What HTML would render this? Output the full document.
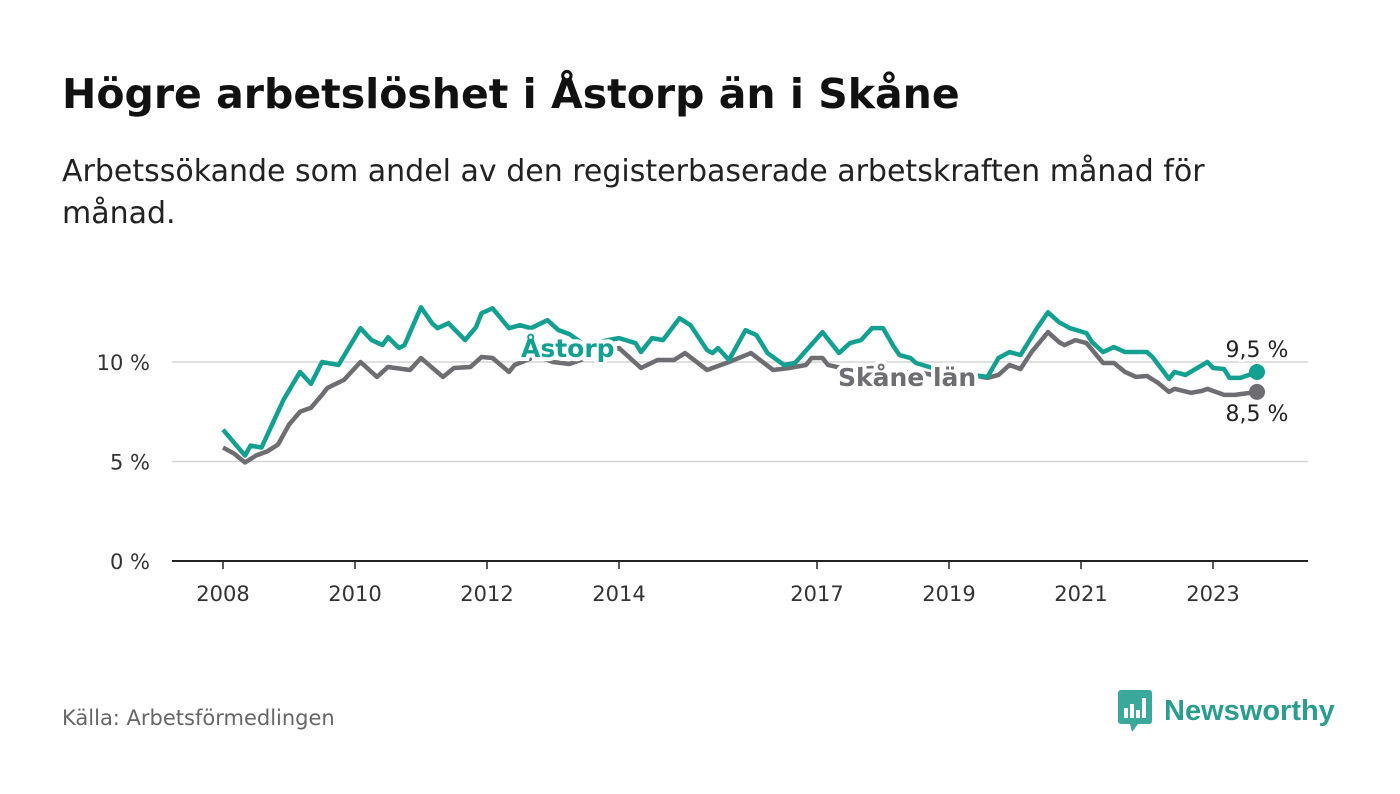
<!DOCTYPE html>
<html><head><meta charset="utf-8"><style>
body{margin:0;width:1400px;height:794px;background:#fff;font-family:"DejaVu Sans","Liberation Sans",sans-serif;overflow:hidden;position:relative}
h1{position:absolute;left:62px;top:70px;margin:0;font-size:41px;font-weight:bold;color:#111}
.sub{position:absolute;left:62px;top:151px;font-size:30px;line-height:42px;color:#222;width:1300px}
.src{position:absolute;left:62px;top:706px;font-size:21px;color:#666}
.logo{position:absolute;left:1118px;top:690px;display:flex;align-items:center;gap:10px;font-size:29px;font-weight:bold;color:#2a9d8f;font-family:"Liberation Sans",sans-serif}
</style></head><body>
<h1>Högre arbetslöshet i Åstorp än i Skåne</h1>
<div class="sub">Arbetssökande som andel av den registerbaserade arbetskraften månad för<br>månad.</div>
<svg id="chart" width="1400" height="794" style="position:absolute;left:0;top:0"></svg>
<div class="src">Källa: Arbetsförmedlingen</div>
<div class="logo"><svg width="36" height="42" viewBox="0 0 36 42"><rect x="0" y="0" width="34" height="34" rx="3" fill="#3aa99b"/><polygon points="12,34 20,34 14,42" fill="#3aa99b"/><rect x="6" y="18" width="4" height="10" fill="#fff"/><rect x="12" y="14" width="4" height="14" fill="#fff"/><rect x="18" y="20" width="4" height="8" fill="#fff"/><rect x="24" y="8" width="4" height="20" fill="#fff"/></svg><span>Newsworthy</span></div>
<script>
const yearLabels=["2008","2010","2012","2014","2017","2019","2021","2023"];
const yearTicks=[2008,2010,2012,2014,2017,2019,2021,2023];
const yTicks=[0,5,10];
const astorpMonths=[0,4,5,7,11,14,16,18,21,25,27,29,30,32,33,36,38,39,41,44,46,47,49,52,54,56,59,61,63,65,67,70,72,75,76,78,80,83,85,88,89,90,92,95,97,99,102,104,109,112,114,116,118,120,122,123,125,126,129,132,135,139,141,143,145,147,148,150,152,154,157,158,160,162,164,168,169,172,173,175,179,180,182,183,185,188];
const astorpValues=[6.6,5.3,5.8,5.7,8.1,9.5,8.9,10.0,9.85,11.7,11.1,10.85,11.25,10.7,10.85,12.75,11.95,11.7,11.95,11.1,11.75,12.45,12.7,11.7,11.85,11.7,12.1,11.6,11.4,11.0,10.9,11.1,11.2,10.95,10.5,11.2,11.1,12.2,11.85,10.6,10.45,10.7,10.1,11.6,11.35,10.45,9.85,9.95,11.5,10.45,10.95,11.1,11.7,11.7,10.75,10.35,10.2,9.95,9.7,9.5,9.4,9.25,10.2,10.5,10.35,11.25,11.7,12.5,12.0,11.7,11.45,11.0,10.5,10.75,10.5,10.5,10.25,9.15,9.5,9.35,10.0,9.7,9.65,9.2,9.2,9.5];
const skaneMonths=[0,2,4,6,8,10,12,14,16,18,19,22,25,28,30,34,36,40,42,45,47,49,52,53,57,60,63,66,69,72,76,79,82,84,88,92,96,100,103,106,107,109,110,114,118,122,126,130,134,137,139,141,143,145,147,150,152,153,155,157,160,162,164,166,168,170,172,173,176,178,179,182,184,188];
const skaneValues=[5.7,5.4,4.95,5.3,5.5,5.85,6.85,7.5,7.7,8.35,8.7,9.1,10.0,9.25,9.75,9.6,10.2,9.25,9.7,9.75,10.25,10.2,9.5,9.85,10.3,10.0,9.9,10.2,10.5,10.7,9.7,10.1,10.1,10.45,9.6,10.0,10.45,9.6,9.7,9.85,10.2,10.2,9.85,9.6,9.7,9.4,9.5,9.3,9.4,9.3,9.2,9.35,9.85,9.65,10.5,11.5,11.0,10.85,11.1,10.95,9.95,9.95,9.5,9.25,9.3,8.95,8.5,8.65,8.45,8.55,8.65,8.35,8.35,8.5];
const NS="http://www.w3.org/2000/svg";
const svg=document.getElementById('chart');
const xm=m=>223+m*5.5;
const xy=y=>xm((y-2008)*12);
const yv=v=>561-v*19.9;
function mk(t,a){const e=document.createElementNS(NS,t);for(const k in a)e.setAttribute(k,a[k]);svg.appendChild(e);return e;}
yTicks.forEach(v=>{
  const l=mk('line',{x1:172,x2:1308,y1:yv(v),y2:yv(v),stroke:v===0?'#222':'#d6d6d6','stroke-width':v===0?2:1.5});
  
  
  const t=mk('text',{x:150,y:yv(v)+8,'text-anchor':'end','font-size':21,fill:'#333'});
  t.textContent=v+' %';
  
  
});
yearTicks.forEach((y,i)=>{
  const l=mk('line',{x1:xy(y),x2:xy(y),y1:561,y2:569,stroke:'#222','stroke-width':1.5});
  
  
  const t=mk('text',{x:xy(y),y:601,'text-anchor':'middle','font-size':21,fill:'#333'});
  t.textContent=yearLabels[i];
  
  
});
function line(ms,vs,col,name){
  const p=mk('polyline',{points:ms.map((m,i)=>xm(m)+','+yv(vs[i])).join(' '),fill:'none',stroke:col,'stroke-width':4.5,'stroke-linejoin':'round'});
  
  
  const n=ms.length-1;
  const c=mk('circle',{cx:xm(ms[n]),cy:yv(vs[n]),r:8,fill:col});
  
  
}
line(skaneMonths,skaneValues,'#6e6d72','skane-line');
line(astorpMonths,astorpValues,'#14a090','astorp-line');
function lab(x,y,txt,col,size,bold,name,anchor){
  const t=mk('text',{x:x,y:y,'font-size':size,'font-weight':bold?'bold':'normal',fill:col,stroke:'#fff','stroke-width':bold?8:5,'paint-order':'stroke','text-anchor':anchor||'start'});
  t.textContent=txt;
  
  
}
lab(521,357,'Åstorp','#14a090',25,true,'astorp-label');
lab(838,386,'Skåne län','#6e6d72',25,true,'skane-label');
const nA=astorpValues.length-1,nS=skaneValues.length-1;
lab(1257,357,astorpValues[nA].toFixed(1).replace('.',',')+' %','#222',22,false,'astorp-end-value','middle');
lab(1257,421,skaneValues[nS].toFixed(1).replace('.',',')+' %','#222',22,false,'skane-end-value','middle');
</script>
</body></html>
